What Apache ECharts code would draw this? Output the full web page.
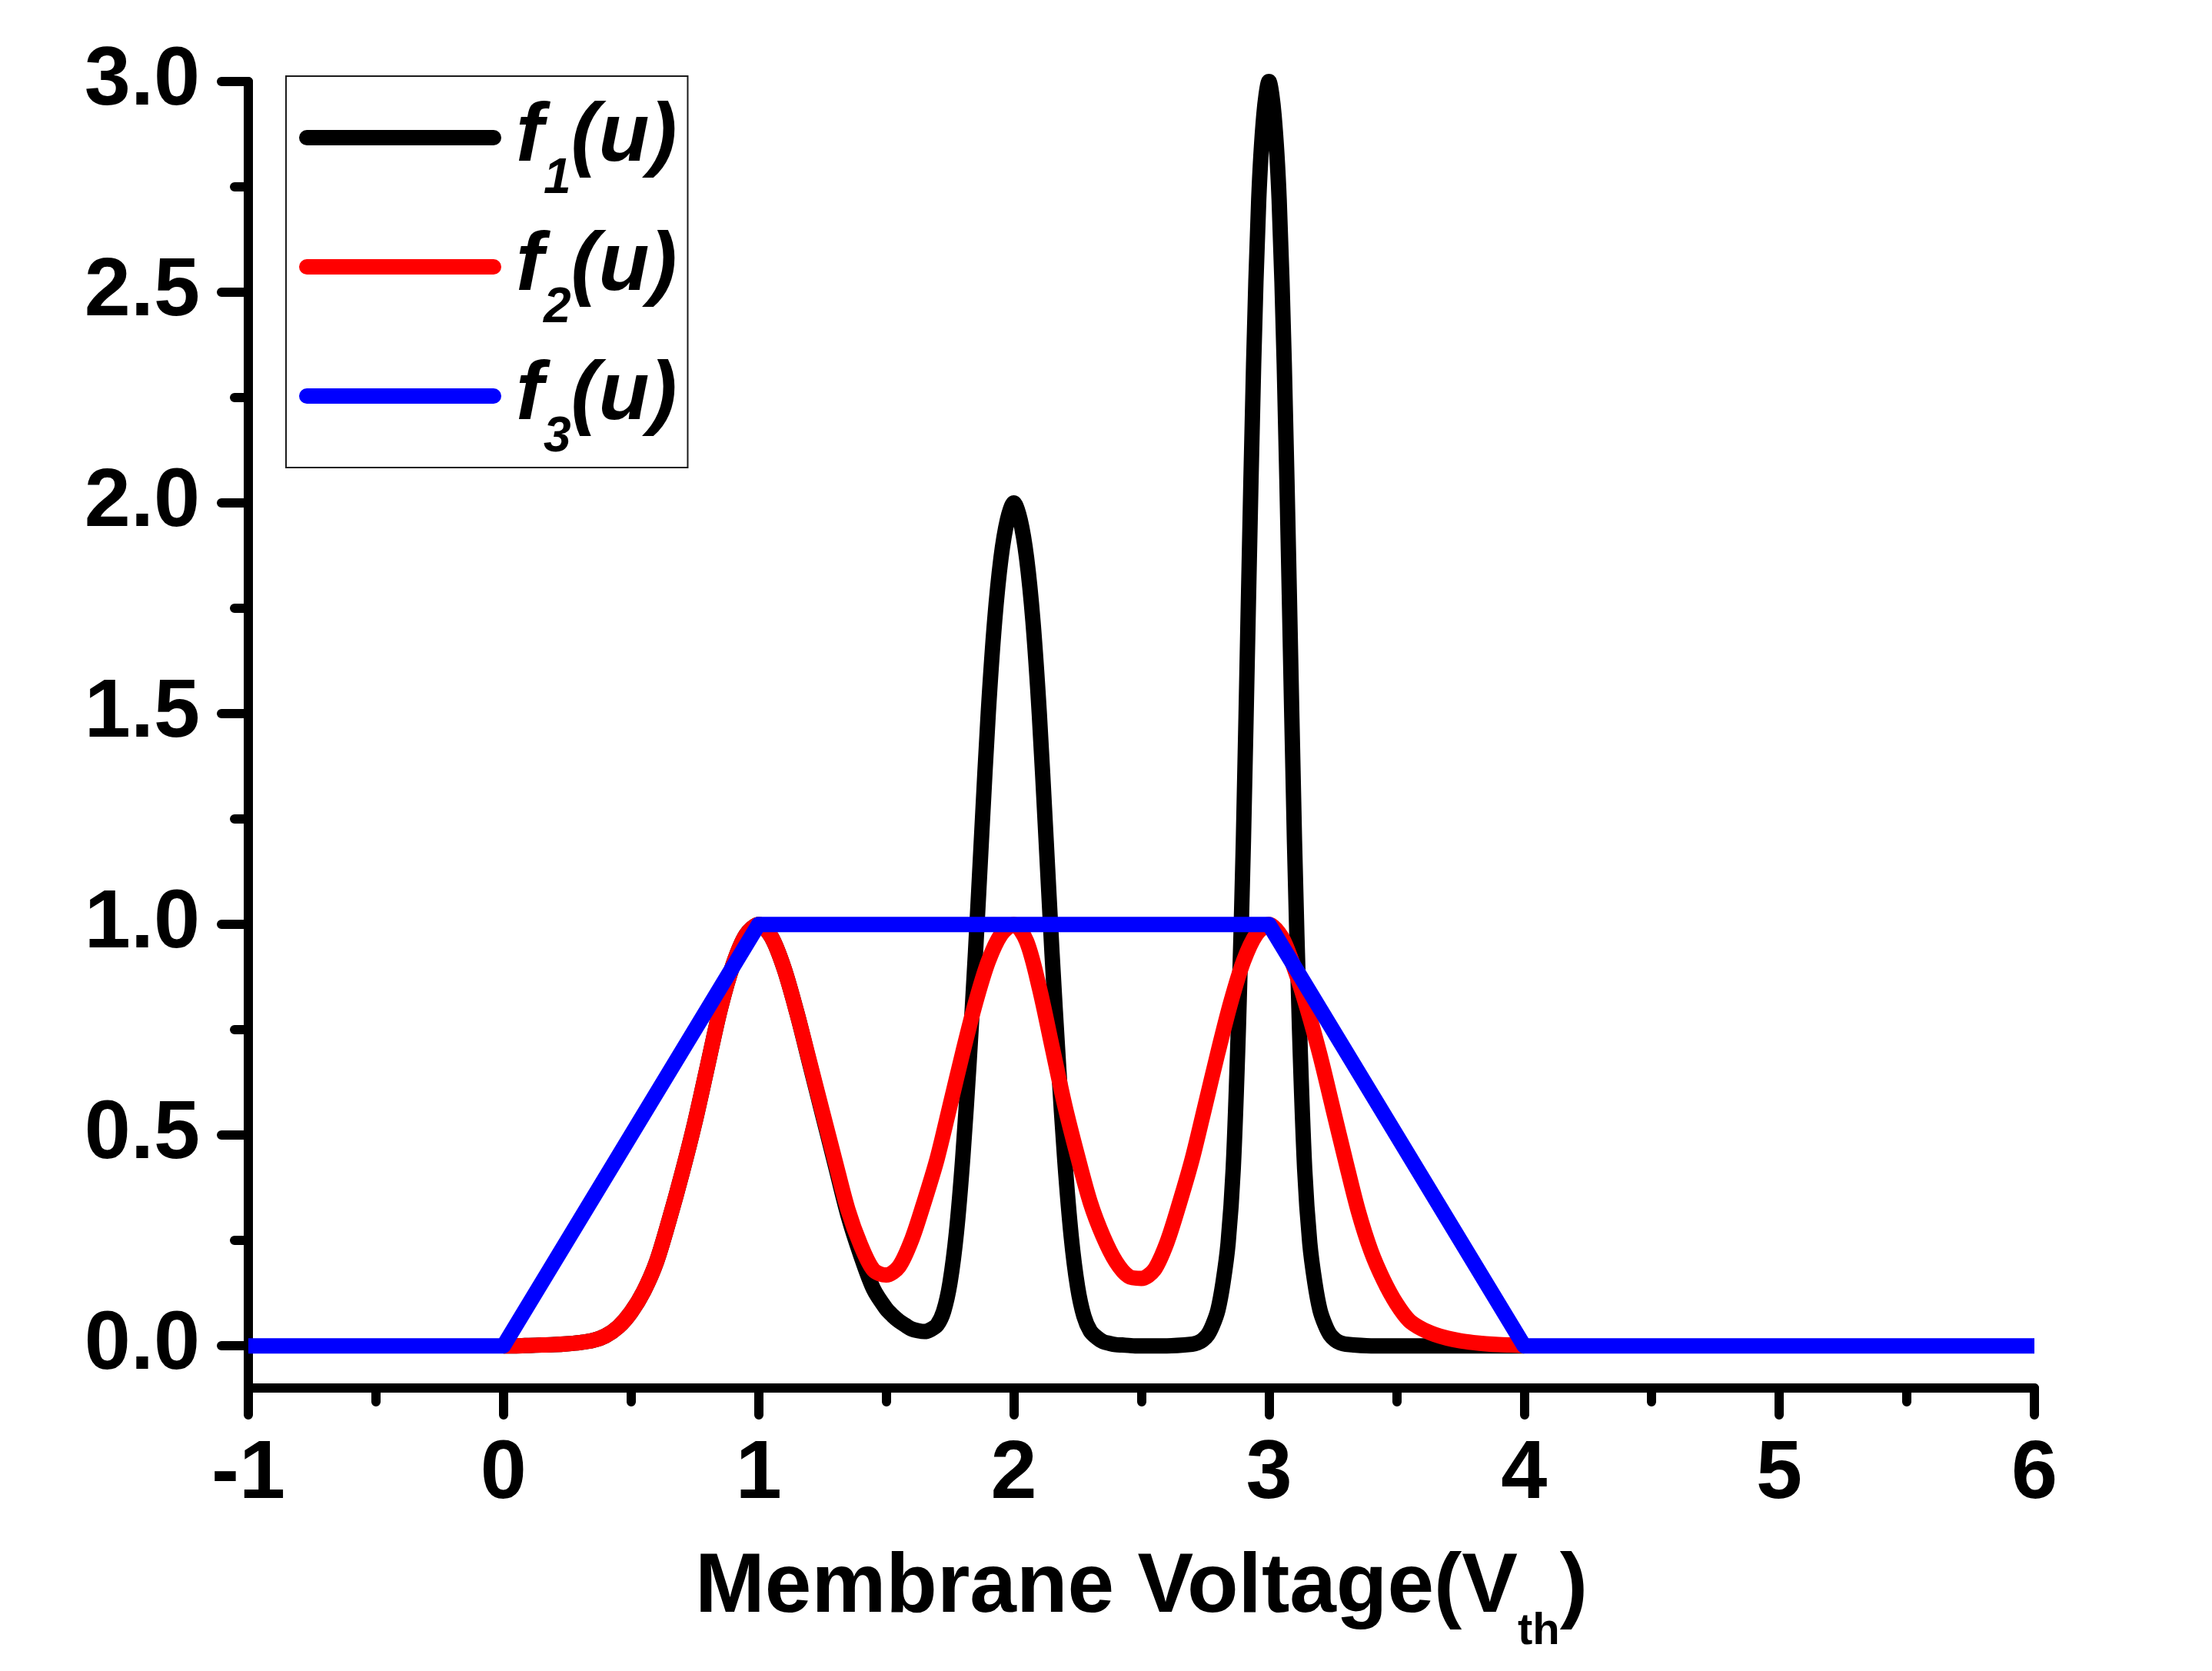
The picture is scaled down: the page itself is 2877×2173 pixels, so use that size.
<!DOCTYPE html>
<html>
<head>
<meta charset="utf-8">
<title>f(u) vs membrane voltage</title>
<script src="https://cdn.jsdelivr.net/npm/echarts@6/dist/echarts.min.js"></script>
<style>
  html, body { margin: 0; padding: 0; background: #fff; }
  #chart { width: 2877px; height: 2173px; }
</style>
</head>
<body>
<div id="chart"></div>
<script>
// 数据
const seriesNames = ['f1(u)', 'f2(u)', 'f3(u)'];
const seriesColors = ['#000000', '#ff0000', '#0000ff'];

// f1(u): 黑线
const f1U = [
  0, 0.05, 0.1, 0.15, 0.2, 0.25, 0.3, 0.35, 0.4, 0.45,
  0.5, 0.55, 0.6, 0.65, 0.7, 0.75, 0.8, 0.85, 0.9, 0.95,
  1, 1.05, 1.1, 1.15, 1.2, 1.25, 1.3, 1.35, 1.4, 1.45,
  1.5, 1.525, 1.55, 1.575, 1.6, 1.625, 1.65, 1.675, 1.7, 1.725,
  1.75, 1.775, 1.8, 1.825, 1.85, 1.875, 1.9, 1.925, 1.95, 1.975,
  2, 2.025, 2.05, 2.075, 2.1, 2.125, 2.15, 2.175, 2.2, 2.225,
  2.25, 2.275, 2.3, 2.325, 2.35, 2.375, 2.4, 2.425, 2.45, 2.475, 2.5,
  2.6, 2.7,
  2.72, 2.74, 2.76, 2.78, 2.8, 2.82, 2.84, 2.86, 2.88, 2.9,
  2.92, 2.94, 2.96, 2.98, 3, 3.02, 3.04, 3.06, 3.08, 3.1,
  3.12, 3.14, 3.16, 3.18, 3.2, 3.22, 3.24, 3.26, 3.28, 3.3,
  3.4, 3.6, 3.8, 4
];
const f1V = [
  0, 0, 0.001, 0.002, 0.003, 0.005, 0.008, 0.013, 0.024, 0.045,
  0.08, 0.13, 0.2, 0.3, 0.41, 0.53, 0.665, 0.8, 0.905, 0.975,
  1, 0.97, 0.895, 0.79, 0.67, 0.55, 0.43, 0.31, 0.215, 0.135,
  0.088, 0.072, 0.059, 0.049, 0.04, 0.036, 0.034, 0.039, 0.05, 0.082,
  0.15, 0.268, 0.446, 0.675, 0.934, 1.223, 1.502, 1.72, 1.87, 1.96,
  2, 1.96, 1.87, 1.72, 1.5, 1.22, 0.93, 0.67, 0.44, 0.26,
  0.14, 0.07, 0.035, 0.02, 0.01, 0.006, 0.003, 0.002, 0.001, 0, 0,
  0, 0.004,
  0.007, 0.014, 0.026, 0.05, 0.085, 0.15, 0.244, 0.42, 0.75, 1.2,
  1.78, 2.33, 2.72, 2.92, 3, 2.92, 2.72, 2.33, 1.78, 1.2,
  0.75, 0.42, 0.244, 0.15, 0.085, 0.05, 0.026, 0.014, 0.007, 0.004,
  0, 0, 0, 0
];

// f2(u): 红线
const f2U = [
  0, 0.05, 0.1, 0.15, 0.2, 0.25, 0.3, 0.35, 0.4, 0.45,
  0.5, 0.55, 0.6, 0.65, 0.7, 0.75, 0.8, 0.85, 0.9, 0.95,
  1, 1.05, 1.1, 1.15, 1.2, 1.25, 1.3, 1.35, 1.4, 1.45,
  1.5, 1.55, 1.6, 1.65, 1.7, 1.75, 1.8, 1.85, 1.9, 1.95,
  2, 2.05, 2.1, 2.15, 2.2, 2.25, 2.3, 2.35, 2.4, 2.45,
  2.5, 2.55, 2.6, 2.65, 2.7, 2.75, 2.8, 2.85, 2.9, 2.95,
  3, 3.05, 3.1, 3.15, 3.2, 3.25, 3.3, 3.35, 3.4, 3.45,
  3.5, 3.55, 3.6, 3.65, 3.7, 3.75, 3.8, 3.85, 3.9, 3.95,
  4
];
const f2V = [
  0, 0, 0.001, 0.002, 0.003, 0.005, 0.008, 0.013, 0.024, 0.045,
  0.08, 0.13, 0.2, 0.3, 0.41, 0.53, 0.665, 0.8, 0.905, 0.975,
  1, 0.97, 0.895, 0.79, 0.673, 0.555, 0.438, 0.323, 0.239, 0.18,
  0.168, 0.188, 0.252, 0.344, 0.445, 0.57, 0.696, 0.814, 0.912, 0.976,
  1, 0.96, 0.85, 0.71, 0.57, 0.45, 0.34, 0.26, 0.2, 0.165,
  0.16, 0.18, 0.245, 0.34, 0.445, 0.57, 0.696, 0.814, 0.912, 0.976,
  1, 0.97, 0.895, 0.8, 0.69, 0.565, 0.44, 0.32, 0.225, 0.155,
  0.1, 0.06, 0.04, 0.027, 0.018, 0.012, 0.008, 0.005, 0.003, 0.002,
  0.001
];

// f3(u): 蓝线（梯形）
const f3U = [-1, 0, 1, 3, 4, 6];
const f3V = [0, 0, 1, 1, 0, 0];

// 刻度
const yMajorTicks = [0, 0.5, 1, 1.5, 2, 2.5, 3];
const yMinorTicks = [0.25, 0.75, 1.25, 1.75, 2.25, 2.75];

const FONT = '"Liberation Sans", Arial, Helvetica, sans-serif';

function pairs(us, vs) {
  return us.map(function (u, i) { return [u, vs[i]]; });
}

const chart = echarts.init(document.getElementById('chart'), null, { renderer: 'canvas' });

const tickStyle = { color: '#000', width: 12, cap: 'round' };

const option = {
  animation: false,
  backgroundColor: '#ffffff',
  grid: {
    left: 323,
    right: 231,
    top: 106,
    bottom: 368,
    outerBoundsMode: 'none'
  },
  legend: {
    orient: 'vertical',
    left: 372,
    top: 99,
    padding: [26, 14, 7, 17],
    itemGap: 28,
    itemWidth: 243,
    itemHeight: 40,
    borderColor: '#1a1a1a',
    borderWidth: 2,
    borderRadius: 0,
    backgroundColor: '#ffffff',
    data: seriesNames,
    lineStyle: { width: 20, cap: 'round' },
    itemStyle: { opacity: 0, borderWidth: 0 },
    formatter: function (name) {
      return '{m|f}{s|' + name.charAt(1) + '}{m|(u)}';
    },
    textStyle: {
      padding: [0, 0, 0, 24],
      rich: {
        m: {
          fontFamily: FONT,
          fontSize: 108,
          fontWeight: 'bold',
          fontStyle: 'italic',
          color: '#000',
          lineHeight: 118
        },
        s: {
          fontFamily: FONT,
          fontSize: 64,
          fontWeight: 'bold',
          fontStyle: 'italic',
          color: '#000',
          lineHeight: 10,
          height: 10,
          verticalAlign: 'bottom'
        }
      }
    }
  },
  xAxis: {
    type: 'value',
    min: -1,
    max: 6,
    interval: 1,
    position: 'bottom',
    name: '{m|Membrane Voltage(V}{s|th}{m|)}',
    nameLocation: 'middle',
    nameGap: 200,
    nameTextStyle: {
      rich: {
        m: {
          fontFamily: FONT,
          fontSize: 109,
          fontWeight: 'bold',
          color: '#000',
          lineHeight: 122
        },
        s: {
          fontFamily: FONT,
          fontSize: 58,
          fontWeight: 'bold',
          color: '#000',
          lineHeight: 10,
          height: 10,
          verticalAlign: 'bottom'
        }
      }
    },
    axisLine: { show: true, onZero: false, lineStyle: tickStyle },
    axisTick: { show: true, length: 35, lineStyle: tickStyle },
    minorTick: { show: true, splitNumber: 2, length: 18, lineStyle: tickStyle },
    axisLabel: {
      margin: 59,
      fontFamily: FONT,
      fontSize: 108,
      fontWeight: 'bold',
      color: '#000',
      showMinLabel: true,
      showMaxLabel: true
    },
    splitLine: { show: false },
    minorSplitLine: { show: false }
  },
  yAxis: [
    {
      type: 'value',
      min: -0.1,
      max: 3,
      position: 'left',
      axisLine: { show: true, onZero: false, lineStyle: tickStyle },
      axisTick: { show: true, length: 35, customValues: yMajorTicks, lineStyle: tickStyle },
      axisLabel: {
        customValues: yMajorTicks,
        formatter: function (v) { return v.toFixed(1); },
        margin: 63,
        fontFamily: FONT,
        fontSize: 108,
        fontWeight: 'bold',
        color: '#000'
      },
      splitLine: { show: false }
    },
    {
      // 副刻度
      type: 'value',
      min: -0.1,
      max: 3,
      position: 'left',
      axisLine: { show: false, onZero: false },
      axisTick: { show: true, length: 18, customValues: yMinorTicks, lineStyle: tickStyle },
      axisLabel: { show: false },
      splitLine: { show: false }
    }
  ],
  series: [
    {
      name: seriesNames[0],
      type: 'line',
      data: pairs(f1U, f1V),
      showSymbol: false,
      symbol: 'none',
      smooth: 0.3,
      clip: false,
      lineStyle: { color: seriesColors[0], width: 20, join: 'round' },
      itemStyle: { color: seriesColors[0] }
    },
    {
      name: seriesNames[1],
      type: 'line',
      data: pairs(f2U, f2V),
      showSymbol: false,
      symbol: 'none',
      smooth: 0.3,
      clip: false,
      lineStyle: { color: seriesColors[1], width: 20, join: 'round' },
      itemStyle: { color: seriesColors[1] }
    },
    {
      name: seriesNames[2],
      type: 'line',
      data: pairs(f3U, f3V),
      showSymbol: false,
      symbol: 'none',
      clip: false,
      lineStyle: { color: seriesColors[2], width: 20, join: 'round' },
      itemStyle: { color: seriesColors[2] }
    }
  ]
};

chart.setOption(option);
</script>
</body>
</html>
